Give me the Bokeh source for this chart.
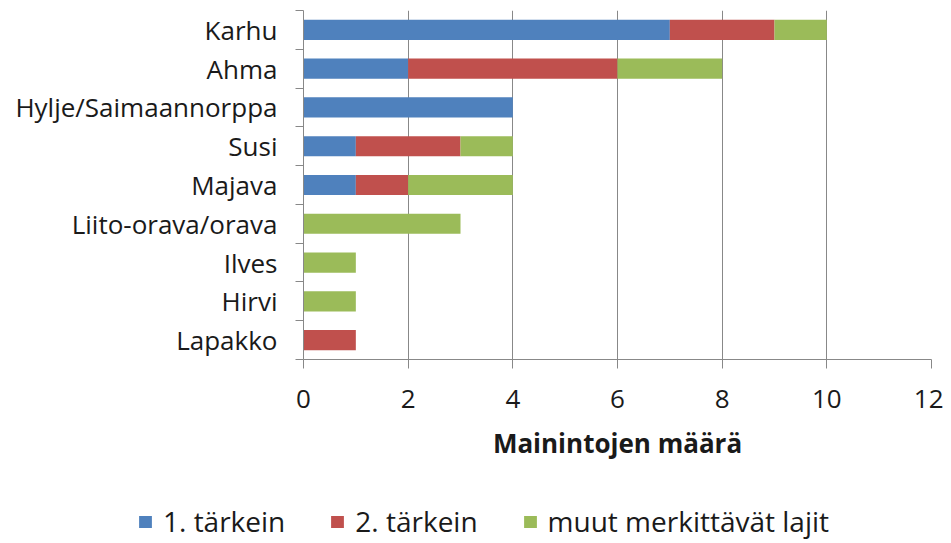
from bokeh.plotting import figure
from bokeh.models import ColumnDataSource, FixedTicker, Legend, LegendItem, Range1d
from bokeh.embed import file_html
from bokeh.resources import INLINE

categories = ["Karhu", "Ahma", "Hylje/Saimaannorppa", "Susi", "Majava",
              "Liito-orava/orava", "Ilves", "Hirvi", "Lapakko"]
first = [7, 2, 4, 1, 1, 0, 0, 0, 0]
second = [2, 4, 0, 2, 1, 0, 0, 0, 1]
others = [1, 2, 0, 1, 2, 3, 1, 1, 0]
series_names = ["1. tärkein", "2. tärkein", "muut merkittävät lajit"]
colors = ["#4F81BD", "#C0504D", "#9BBB59"]
x_ticks = [0, 2, 4, 6, 8, 10, 12]
x_title = "Mainintojen määrä"

n = len(categories)
ypos = [n - i for i in range(n)]
src = ColumnDataSource(dict(y=ypos, a=first, b=second, c=others))

FONT = "Open Sans"
FS = "26px"
TXT = "#1a1a1a"
GREY = "#888888"

p = figure(width=943, height=478, output_backend="svg", toolbar_location=None,
           x_range=Range1d(0, 12), y_range=Range1d(0.5, n + 0.5),
           min_border_left=303, min_border_right=12, min_border_top=10,
           min_border_bottom=119)
p.outline_line_color = None

p.hbar_stack(["a", "b", "c"], y="y", height=0.52, color=colors,
             line_color=None, source=src)

p.xaxis.ticker = FixedTicker(ticks=x_ticks)
p.xaxis.axis_label = x_title
p.xaxis.axis_label_text_font = FONT
p.xaxis.axis_label_text_font_style = "bold"
p.xaxis.axis_label_text_font_size = FS
p.xaxis.axis_label_text_color = TXT
p.xaxis.axis_label_standoff = 14
p.xaxis.major_label_text_font = FONT
p.xaxis.major_label_text_font_size = FS
p.xaxis.major_label_text_color = TXT
p.xaxis.major_label_standoff = 21
p.xaxis.major_tick_out = 9
p.xaxis.major_tick_in = 0
p.xaxis.minor_tick_out = 0
p.xaxis.axis_line_color = GREY
p.xaxis.major_tick_line_color = GREY

p.yaxis.ticker = FixedTicker(ticks=ypos, minor_ticks=[v + 0.5 for v in range(n + 1)])
p.yaxis.major_label_overrides = {v: c for v, c in zip(ypos, categories)}
p.yaxis.major_label_text_font = FONT
p.yaxis.major_label_text_font_size = FS
p.yaxis.major_label_text_color = TXT
p.yaxis.major_tick_out = 0
p.yaxis.major_tick_in = 0
p.yaxis.minor_tick_out = 8
p.yaxis.minor_tick_in = 0
p.yaxis.minor_tick_line_color = GREY
p.yaxis.axis_line_color = GREY
p.yaxis.major_label_standoff = 18

p.xgrid.ticker = FixedTicker(ticks=x_ticks)
p.xgrid.grid_line_color = GREY
p.ygrid.grid_line_color = None

# legend strip below the chart (hidden copies of the bars feed its swatches)
leg = figure(width=943, height=62, output_backend="svg", toolbar_location=None,
             x_range=Range1d(0, 1), y_range=Range1d(0, 1),
             x_axis_type=None, y_axis_type=None, min_border=0)
leg.outline_line_color = None
leg_rs = leg.hbar_stack(["a", "b", "c"], y="y", height=0.52, color=colors,
                        line_color=None, source=src)
for r in leg_rs:
    r.visible = False
legend = Legend(items=[LegendItem(label=nm, renderers=[r]) for nm, r in zip(series_names, leg_rs)],
                orientation="horizontal", location=(137, 0),
                glyph_width=16, glyph_height=15, label_standoff=10, spacing=44,
                padding=0, margin=0, border_line_color=None,
                background_fill_alpha=0, inactive_fill_alpha=0,
                label_text_font=FONT, label_text_font_size="28px",
                label_text_color=TXT)
leg.add_layout(legend, "center")

open("out.html", "w").write(file_html([p, leg], INLINE))
